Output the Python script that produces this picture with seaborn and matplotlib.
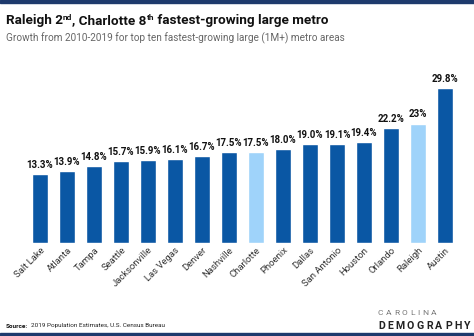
import matplotlib
matplotlib.use("Agg")
import matplotlib.pyplot as plt
import seaborn as sns
import pandas as pd
from matplotlib.patches import Rectangle

cities = ["Salt Lake", "Atlanta", "Tampa", "Seattle", "Jacksonville", "Las Vegas",
          "Denver", "Nashville", "Charlotte", "Phoenix", "Dallas", "San Antonio",
          "Houston", "Orlando", "Raleigh", "Austin"]
growth = [13.3, 13.9, 14.8, 15.7, 15.9, 16.1, 16.7, 17.5, 17.5, 18.0, 19.0, 19.1,
          19.4, 22.2, 23.0, 29.8]
value_labels = ["13.3%", "13.9%", "14.8%", "15.7%", "15.9%", "16.1%", "16.7%", "17.5%",
                "17.5%", "18.0%", "19.0%", "19.1%", "19.4%", "22.2%", "23%", "29.8%"]
highlight = ["NC" if c in ("Charlotte", "Raleigh") else "Other" for c in cities]

DARK = "#0A57A4"
LIGHT = "#9FD3FA"
NAVY = "#1E3A6D"

sns.set_theme(style="white")
NARROW = ["Liberation Sans Narrow", "Roboto", "DejaVu Sans"]
plt.rcParams["font.family"] = ["Roboto", "DejaVu Sans"]

df = pd.DataFrame({"city": cities, "growth": growth, "group": highlight})

fig = plt.figure(figsize=(4.74, 3.36), dpi=100)
ax = fig.add_axes([0.0559, 0.2777, 0.9114, 0.47])
sns.barplot(data=df, x="city", y="growth", hue="group",
            palette={"NC": LIGHT, "Other": DARK}, width=0.56,
            dodge=False, legend=False, ax=ax, saturation=1)
ax.set_xlim(-0.5, len(cities) - 0.5)
ax.set_ylim(0, 30.5)
ax.set_xlabel("")
ax.set_ylabel("")
ax.set_yticks([])
for s in ax.spines.values():
    s.set_visible(False)
ax.tick_params(axis="x", length=0, pad=2)
ax.set_xticks(range(len(cities)))
ax.set_xticklabels(cities, rotation=45, ha="right", va="top",
                   rotation_mode="anchor", fontsize=6.8, color="#333333")
for lab in ax.get_xticklabels():
    lab.set_family(NARROW)

for i, (v, t) in enumerate(zip(growth, value_labels)):
    ax.annotate(t, (i, v), xytext=(0, 3), textcoords="offset points",
                ha="center", va="bottom", fontsize=7.0, fontweight="bold",
                color="#111111", family=NARROW, clip_on=False)

# top & bottom strips
fig.patches.append(Rectangle((0, 1 - 3 / 336), 1, 3 / 336, transform=fig.transFigure,
                             color=NAVY, zorder=0))
fig.patches.append(Rectangle((0, 0), 1, 3 / 336, transform=fig.transFigure,
                             color=NAVY, zorder=0))

# title with superscripts
fig.canvas.draw()
renderer = fig.canvas.get_renderer()
pieces = [("Raleigh 2", 9.7, 0), ("nd", 6.0, 4), (", Charlotte 8", 9.7, 0),
          ("th", 6.0, 4), (" fastest-growing large metro", 9.7, 0)]
x = 6
base_y = 336 - 24
for txt, size, dy in pieces:
    t = fig.text(x / 474, (base_y + dy) / 336, txt, fontsize=size, fontweight="bold",
                 color="#111111", family=NARROW, ha="left", va="baseline")
    bb = t.get_window_extent(renderer)
    x = bb.x1

fig.text(6 / 474, 1 - 38 / 336, "Growth from 2010-2019 for top ten fastest-growing large (1M+) metro areas",
         fontsize=7.2, color="#666666", ha="left", va="center", family=NARROW)

# source
t = fig.text(6 / 474, 1 - 326 / 336, "Source:", fontsize=4.6, fontweight="bold",
             color="#111111", ha="left", va="center", family=NARROW)
bb = t.get_window_extent(renderer)
fig.text((bb.x1 + 3) / 474, 1 - 326 / 336, "2019 Population Estimates, U.S. Census Bureau",
         fontsize=4.6, color="#222222", ha="left", va="center", family=NARROW)


def tracked(word, x0, y, track, **kw):
    xx = x0
    for ch in word:
        t = fig.text(xx / 474, y / 336, ch, ha="left", va="baseline", **kw)
        xx = t.get_window_extent(renderer).x1 + track


tracked("CAROLINA", 378, 336 - 315, 2.6, fontsize=6.0, color="#777777")
tracked("DEMOGRAPHY", 378, 336 - 329, 2.4, fontsize=7.6, fontweight="bold", color="#222222")

fig.savefig("out.png", dpi=100)
